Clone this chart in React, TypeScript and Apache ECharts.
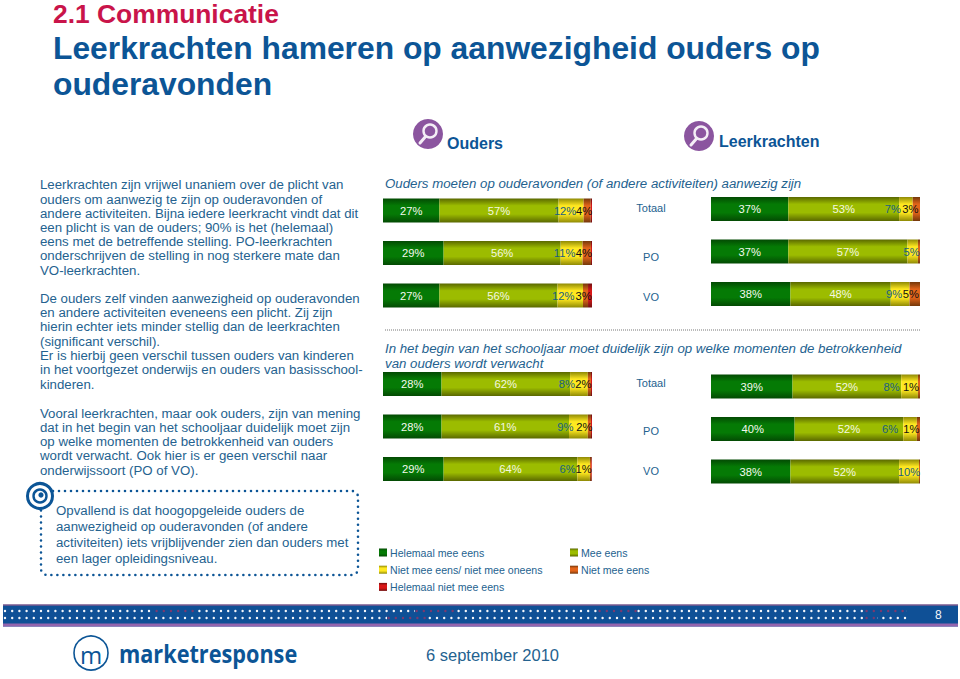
import React, { useEffect, useRef } from "react";
import * as echarts from "echarts";

const FONT = "'Liberation Sans', Arial, sans-serif";
const BLUE = "#24628f";
const DARK = "#0c5596";

const categories = ["Totaal", "PO", "VO"];
const seriesNames = ["Helemaal mee eens", "Mee eens", "Niet mee eens/ niet mee oneens", "Niet mee eens", "Helemaal niet mee eens"];

// Segment widths per row: Totaal, PO, VO
const oudersPlicht = [[27, 57, 12, 3.4, 0.6], [29, 56, 10.5, 4, 0.5], [27, 56.5, 12.2, 2.4, 1.9]];
const leerkrachtenPlicht = [[37, 53, 6.5, 3.5, 0], [37, 57, 5, 1, 0], [38, 48, 9, 5, 0]];
const oudersBegin = [[28, 61.5, 8.5, 1.5, 0.5], [28, 61, 9, 1.5, 0.5], [29, 64, 6, 0.7, 0.3]];
const leerkrachtenBegin = [[39, 52, 8, 1, 0], [40, 52, 6.5, 1.5, 0], [38, 52, 9.5, 0.5, 0]];

// Printed labels per row
const oudersPlichtLabels = [["27%", "57%", "12%", "4%"], ["29%", "56%", "11%", "4%"], ["27%", "56%", "12%", "3%"]];
const leerkrachtenPlichtLabels = [["37%", "53%", "7%", "3%"], ["37%", "57%", "5%", ""], ["38%", "48%", "9%", "5%"]];
const oudersBeginLabels = [["28%", "62%", "8%", "2%"], ["28%", "61%", "9%", "2%"], ["29%", "64%", "6%", "1%"]];
const leerkrachtenBeginLabels = [["39%", "52%", "8%", "1%"], ["40%", "52%", "6%", "1%"], ["38%", "52%", "10%", ""]];

// Label nudges in px for the third and fourth segment, as placed in the original
const oudersPlichtShift = [[-6, -3], [-7, -3], [-7, -2]];
const leerkrachtenPlichtShift = [[-13, -6], [-1, 0], [-6, -4]];
const oudersBeginShift = [[-12, -6], [-13, -5], [-16, -7]];
const leerkrachtenBeginShift = [[-18, -8], [-20, -7], [0, 0]];

const introLines = [
  "Leerkrachten zijn vrijwel unaniem over de plicht van",
  "ouders om aanwezig te zijn op ouderavonden of",
  "andere activiteiten. Bijna iedere leerkracht vindt dat dit",
  "een plicht is van de ouders; 90% is het (helemaal)",
  "eens met de betreffende stelling. PO-leerkrachten",
  "onderschrijven de stelling in nog sterkere mate dan",
  "VO-leerkrachten.",
];
const oudersLines = [
  "De ouders zelf vinden aanwezigheid op ouderavonden",
  "en andere activiteiten eveneens een plicht. Zij zijn",
  "hierin echter iets minder stellig dan de leerkrachten",
  "(significant verschil).",
  "Er is hierbij geen verschil tussen ouders van kinderen",
  "in het voortgezet onderwijs en ouders van basisschool-",
  "kinderen.",
];
const vooralLines = [
  "Vooral leerkrachten, maar ook ouders, zijn van mening",
  "dat in het begin van het schooljaar duidelijk moet zijn",
  "op welke momenten de betrokkenheid van ouders",
  "wordt verwacht. Ook hier is er geen verschil naar",
  "onderwijssoort (PO of VO).",
];
const calloutLines = [
  "Opvallend is dat hoogopgeleide ouders de",
  "aanwezigheid op ouderavonden (of andere",
  "activiteiten) iets vrijblijvender zien dan ouders met",
  "een lager opleidingsniveau.",
];

const grad = (edge: string, mid: string) =>
  new echarts.graphic.LinearGradient(0, 0, 0, 1, [
    { offset: 0, color: edge },
    { offset: 0.3, color: mid },
    { offset: 0.65, color: mid },
    { offset: 1, color: edge },
  ]);

const segmentColors = () => [
  grad("#034a03", "#057a05"),
  grad("#5a6800", "#9cbc00"),
  grad("#8f8a05", "#ffe820"),
  grad("#74380a", "#e2641a"),
  grad("#701010", "#d81818"),
];
const labelColors = ["#f4f8ee", "#f4f8e0", "#1a5f80", "#111111"];

const panels = [
  { top: 189.25, left: 383, width: 209, rows: oudersPlicht, labels: oudersPlichtLabels, shift: oudersPlichtShift },
  { top: 187.75, left: 711, width: 209, rows: leerkrachtenPlicht, labels: leerkrachtenPlichtLabels, shift: leerkrachtenPlichtShift },
  { top: 362.75, left: 383, width: 209, rows: oudersBegin, labels: oudersBeginLabels, shift: oudersBeginShift },
  { top: 365.25, left: 711, width: 209, rows: leerkrachtenBegin, labels: leerkrachtenBeginLabels, shift: leerkrachtenBeginShift },
];

const txt = (x: number, y: number, text: string, size: number, color = BLUE, extra: any = {}, el: any = {}) => ({
  type: "text",
  x,
  y,
  silent: true,
  ...el,
  style: { text, fill: color, fontFamily: FONT, fontSize: size, verticalAlign: "middle", align: "left", ...extra },
});

const block = (x: number, ys: number[], lines: string[], size: number) => lines.map((l, i) => txt(x, ys[i], l, size));

const dots = (x1: number, x2: number, y: number, color: string, width = 2.4, gap = 7.2) => ({
  type: "line",
  silent: true,
  shape: { x1, y1: y, x2, y2: y },
  style: { stroke: color, lineWidth: width, lineCap: "round", lineDash: [0, gap] },
});

const lens = (cx: number, cy: number) => [
  { type: "circle", silent: true, shape: { cx, cy, r: 15 }, style: { fill: "#8b559f" } },
  { type: "line", silent: true, shape: { x1: cx - 2, y1: cy + 2, x2: cx - 8, y2: cy + 9 }, style: { stroke: "#f4eef6", lineWidth: 3, lineCap: "round" } },
  { type: "circle", silent: true, shape: { cx: cx + 2, cy: cy - 3, r: 6.5 }, style: { fill: "#8b559f", stroke: "#f4eef6", lineWidth: 2.4 } },
];

const buildOption = () => {
  const colors = segmentColors();
  const grid: any[] = [];
  const xAxis: any[] = [];
  const yAxis: any[] = [];
  const series: any[] = [];
  panels.forEach((p, pi) => {
    grid.push({ left: p.left, top: p.top, width: p.width, height: 127.5 });
    xAxis.push({ type: "value", gridIndex: pi, min: 0, max: 100, show: false });
    yAxis.push({ type: "category", gridIndex: pi, data: categories, inverse: true, show: false });
    seriesNames.forEach((name, si) => {
      series.push({
        type: "bar",
        name,
        stack: "p" + pi,
        xAxisIndex: pi,
        yAxisIndex: pi,
        barWidth: 24,
        itemStyle: { color: colors[si] },
        label: {
          show: si < 4,
          position: "inside",
          formatter: (params: any) => (si < 4 ? p.labels[params.dataIndex][si] : ""),
          color: labelColors[si] || "#111",
          fontFamily: FONT,
          fontSize: 11.2,
          textBorderWidth: 0,
          overflow: "none",
        },
        labelLayout: (params: any) => ({
          dx: si === 2 || si === 3 ? p.shift[params.dataIndex][si - 2] : 0,
          hideOverlap: false,
        }),
        data: p.rows.map((row) => row[si]),
      });
    });
  });

  const legendBase = {
    orient: "vertical",
    icon: "rect",
    itemWidth: 8,
    itemHeight: 8,
    itemGap: 6.2,
    selectedMode: false,
    textStyle: { color: BLUE, fontFamily: FONT, fontSize: 10.6, padding: [0, 0, 0, -2] },
  };

  const graphic: any[] = [
    txt(53, 13.5, "2.1 Communicatie", 26.4, "#c9144a", { fontWeight: "bold" }),
    txt(53, 48, "Leerkrachten hameren op aanwezigheid ouders op", 31.8, DARK, { fontWeight: "bold" }),
    txt(53, 84, "ouderavonden", 31.8, DARK, { fontWeight: "bold" }),
    ...lens(428, 134),
    txt(447, 143, "Ouders", 16, DARK, { fontWeight: "bold" }),
    ...lens(699, 136),
    txt(719, 141, "Leerkrachten", 16, DARK, { fontWeight: "bold" }),
    ...block(40, [184, 199, 213, 227, 241, 255, 270], introLines, 13.25),
    ...block(40, [298, 312, 326, 341, 355, 369, 384], oudersLines, 13.25),
    ...block(40, [413, 427, 441, 455, 470], vooralLines, 13.25),
    txt(385, 183, "Ouders moeten op ouderavonden (of andere activiteiten) aanwezig zijn", 13.25, BLUE, { fontStyle: "italic" }),
    txt(385, 348, "In het begin van het schooljaar moet duidelijk zijn op welke momenten de betrokkenheid", 13.25, BLUE, { fontStyle: "italic" }),
    txt(385, 363, "van ouders wordt verwacht", 13.25, BLUE, { fontStyle: "italic" }),
    { type: "line", silent: true, shape: { x1: 385, y1: 330, x2: 920, y2: 330 }, style: { stroke: "#777", lineWidth: 1, lineDash: [1, 1] } },
    txt(651, 208, categories[0], 11, BLUE, { align: "center" }),
    txt(651, 257, categories[1], 11, BLUE, { align: "center" }),
    txt(651, 297, categories[2], 11, BLUE, { align: "center" }),
    txt(651, 383, categories[0], 11, BLUE, { align: "center" }),
    txt(651, 431, categories[1], 11, BLUE, { align: "center" }),
    txt(651, 471, categories[2], 11, BLUE, { align: "center" }),
    // callout
    { type: "rect", silent: true, shape: { x: 41, y: 491, width: 317, height: 84, r: 6 }, style: { fill: "none", stroke: DARK, lineWidth: 2.6, lineCap: "round", lineDash: [0, 6] } },
    { type: "circle", silent: true, shape: { cx: 40, cy: 496, r: 12.5 }, style: { fill: "#fff", stroke: DARK, lineWidth: 3 } },
    { type: "circle", silent: true, shape: { cx: 40, cy: 496, r: 6.5 }, style: { fill: "#fff", stroke: DARK, lineWidth: 2.4 } },
    { type: "circle", silent: true, shape: { cx: 41, cy: 495, r: 2.6 }, style: { fill: DARK } },
    ...block(56, [510, 526, 542, 558], calloutLines, 13.25),
    // footer band
    { type: "rect", silent: true, shape: { x: 3, y: 604.5, width: 955, height: 22 }, style: { fill: "#0f5096" } },
    { type: "rect", silent: true, shape: { x: 3, y: 604.5, width: 955, height: 1 }, style: { fill: "#b0608c" } },
    { type: "rect", silent: true, shape: { x: 3, y: 623.5, width: 955, height: 3 }, style: { fill: "#9465ae" } },
    dots(5, 906, 611, "#f4f6fa"),
    dots(5, 906, 618, "#f4f6fa"),
    ...[[155, 195], [415, 457], [598, 637], [865, 906]].map(([a, b]) => [
      { type: "rect", silent: true, shape: { x: a, y: 608, width: b - a, height: 6 }, style: { fill: "#0f5096" } },
      dots(a + 1.6, b, 611, "#7a3a70"),
    ]).flat(),
    ...[[387, 427], [865, 877]].map(([a, b]) => [
      { type: "rect", silent: true, shape: { x: a, y: 615, width: b - a, height: 6 }, style: { fill: "#0f5096" } },
      dots(a + 1.6, b, 618, "#7a3a70"),
    ]).flat(),
    txt(935, 615, "8", 12, "#f4f6fa"),
    // logo and date
    { type: "circle", silent: true, shape: { cx: 91, cy: 653, r: 17 }, style: { fill: "none", stroke: DARK, lineWidth: 1.6 } },
    txt(91, 654, "m", 24, DARK, { align: "center", fontFamily: "'Open Sans', sans-serif" }),
    txt(119, 653, "marketresponse", 25.5, DARK, { fontFamily: "'Open Sans', sans-serif", fontWeight: "bold" }, { scaleX: 0.85 }),
    txt(426, 655, "6 september 2010", 16.5, BLUE),
  ];

  return {
    animation: false,
    backgroundColor: "#ffffff",
    grid,
    xAxis,
    yAxis,
    series,
    legend: [
      { ...legendBase, left: 374, top: 542, data: [seriesNames[0], seriesNames[2], seriesNames[4]] },
      { ...legendBase, left: 565, top: 542, data: [seriesNames[1], seriesNames[3]] },
    ],
    graphic: { elements: graphic },
  };
};

export default function App() {
  const ref = useRef<HTMLDivElement>(null);
  useEffect(() => {
    const chart = echarts.init(ref.current!, undefined, { renderer: "svg" });
    chart.setOption(buildOption() as any);
    return () => chart.dispose();
  }, []);
  return <div ref={ref} style={{ position: "fixed", left: 0, top: 0, width: 960, height: 679, background: "#fff" }} />;
}
